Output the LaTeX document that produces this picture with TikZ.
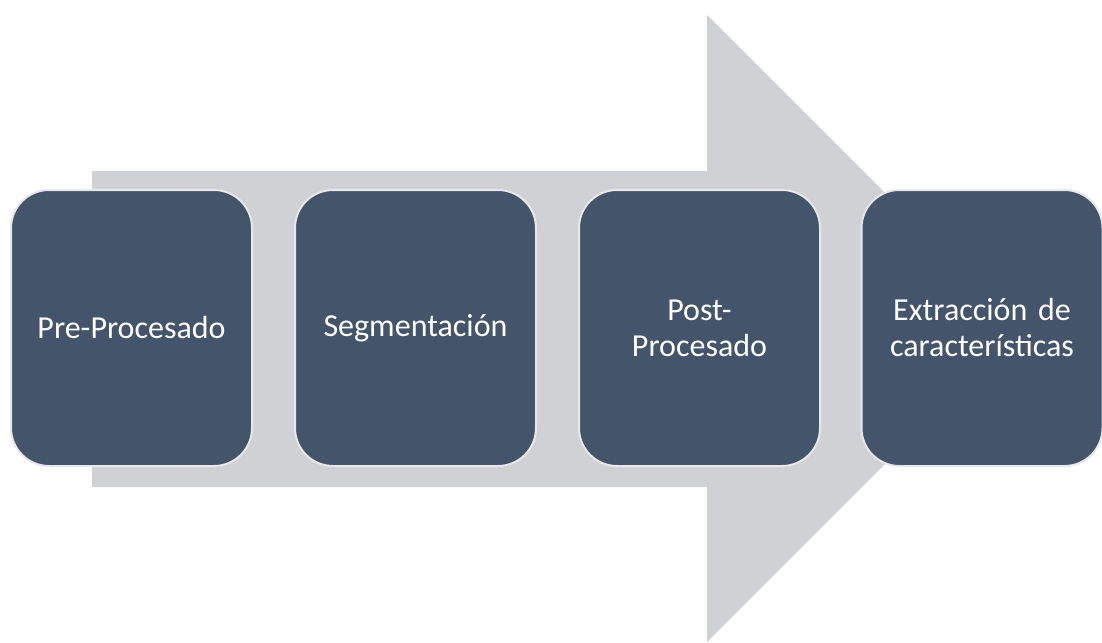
\documentclass[tikz,border=0pt]{standalone}
\usepackage{fontspec}
\setmainfont{Carlito}
\definecolor{arrowgray}{RGB}{208,209,213}
\definecolor{boxblue}{RGB}{68,84,106}
\definecolor{boxedge}{RGB}{232,232,234}
\begin{document}
\begin{tikzpicture}[x=1pt,y=-1pt,
  stepbox/.style={rectangle, rounded corners=38pt, fill=boxblue, draw=boxedge,
    line width=2pt, minimum width=241pt, minimum height=276pt,
    text=white, align=center, text width=232pt,
    font=\fontsize{32}{36}\selectfont, inner sep=0pt}]
\useasboundingbox (0,0) rectangle (1102,642);
\fill[arrowgray] (92,171) -- (707,171) -- (707,15) -- (1020.5,328.5)
  -- (707,642) -- (707,487) -- (92,487) -- cycle;
\node[stepbox] (s1) at (131.5,328) {Pre-Procesado};
\node[stepbox] (s2) at (415.5,328) {Segmentación};
\node[stepbox] (s3) at (699.5,328) {Post-\\Procesado};
\node[stepbox] (s4) at (982,328) {Extracción de\\características};
\end{tikzpicture}
\end{document}
